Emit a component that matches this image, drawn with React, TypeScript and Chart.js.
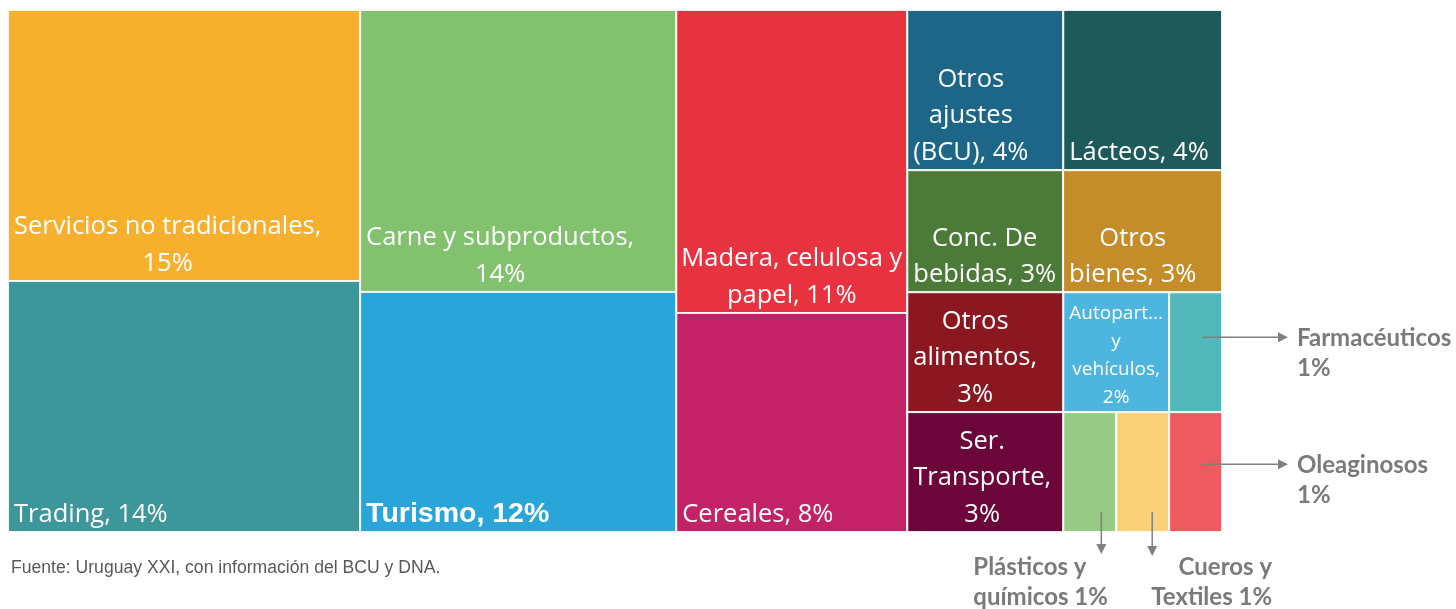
import React, { useEffect, useRef } from "react";
import { Chart, registerables } from "chart.js";

Chart.register(...registerables);

// ---------- DATA ----------
const categories = [
  "Servicios no tradicionales",
  "Trading",
  "Carne y subproductos",
  "Turismo",
  "Madera, celulosa y papel",
  "Cereales",
  "Otros ajustes (BCU)",
  "Lácteos",
  "Conc. De bebidas",
  "Otros bienes",
  "Otros alimentos",
  "Ser. Transporte",
  "Autopartes y vehículos",
  "Farmacéuticos",
  "Plásticos y químicos",
  "Cueros y Textiles",
  "Oleaginosos",
];

const shares = [15.05, 13.94, 14.06, 11.97, 11.04, 7.98, 3.94, 4.01, 3.0, 3.06, 2.95, 2.95, 2.0, 1.0, 1.0, 1.0, 1.0];

const cellLabelLines: string[][] = [
  ["Servicios no tradicionales,", "15%"],
  ["Trading, 14%"],
  ["Carne y subproductos,", "14%"],
  ["Turismo, 12%"],
  ["Madera, celulosa y", "papel, 11%"],
  ["Cereales, 8%"],
  ["Otros", "ajustes", "(BCU), 4%"],
  ["Lácteos, 4%"],
  ["Conc. De", "bebidas, 3%"],
  ["Otros", "bienes, 3%"],
  ["Otros", "alimentos,", "3%"],
  ["Ser.", "Transporte,", "3%"],
  ["Autopart...", "y", "vehículos,", "2%"],
  [],
  [],
  [],
  [],
];

const outsideLabelLines: Record<number, string[]> = {
  13: ["Farmacéuticos", "1%"],
  16: ["Oleaginosos", "1%"],
  14: ["Plásticos y", "químicos 1%"],
  15: ["Cueros y", "Textiles 1%"],
};

const sourceNote = "Fuente: Uruguay XXI, con información del BCU y DNA.";

// treemap strip structure (squarified grouping)
const strips: { items: number[]; dir: "col" | "row" }[] = [
  { items: [0, 1], dir: "col" },
  { items: [2, 3], dir: "col" },
  { items: [4, 5], dir: "col" },
  { items: [6, 7], dir: "row" },
  { items: [8, 9], dir: "row" },
  { items: [10, 11], dir: "col" },
  { items: [12, 13], dir: "row" },
  { items: [14, 15, 16], dir: "row" },
];

// ---------- STYLE ----------
const colors = [
  "#F7AF2E",
  "#3D9699",
  "#82C26E",
  "#29A5DA",
  "#E9323F",
  "#C42267",
  "#1D6688",
  "#1E5A59",
  "#4C7A38",
  "#C48D2A",
  "#8B1721",
  "#6C053A",
  "#4EB5DF",
  "#52B8BA",
  "#97CB85",
  "#FAD178",
  "#EF5A60",
];

const BOLD_CELL = 3;
const SMALL_CELL = 12;
const GRAY = "#7A7A7A";

type Rect = { x0: number; x1: number; y0: number; y1: number };

function layoutTreemap(): Rect[] {
  const rects: Rect[] = new Array(shares.length);
  let rem: Rect = { x0: 0, x1: 1, y0: 0, y1: 1 };
  let remTotal = shares.reduce((a, b) => a + b, 0);
  strips.forEach((s, si) => {
    const sum = s.items.reduce((a, i) => a + shares[i], 0);
    const last = si === strips.length - 1;
    const frac = last ? 1 : sum / remTotal;
    if (s.dir === "col") {
      const xEnd = rem.x0 + (rem.x1 - rem.x0) * frac;
      let y = rem.y0;
      s.items.forEach((i) => {
        const h = ((rem.y1 - rem.y0) * shares[i]) / sum;
        rects[i] = { x0: rem.x0, x1: xEnd, y0: y, y1: y + h };
        y += h;
      });
      rem = { ...rem, x0: xEnd };
    } else {
      const yEnd = rem.y0 + (rem.y1 - rem.y0) * frac;
      let x = rem.x0;
      s.items.forEach((i) => {
        const w = ((rem.x1 - rem.x0) * shares[i]) / sum;
        rects[i] = { x0: x, x1: x + w, y0: rem.y0, y1: yEnd };
        x += w;
      });
      rem = { ...rem, y0: yEnd };
    }
    remTotal -= sum;
  });
  return rects;
}

function drawArrow(ctx: CanvasRenderingContext2D, x1: number, y1: number, x2: number, y2: number) {
  ctx.save();
  ctx.strokeStyle = "#808080";
  ctx.fillStyle = "#808080";
  ctx.lineWidth = 1.5;
  const ang = Math.atan2(y2 - y1, x2 - x1);
  const hl = 10;
  const hw = 5;
  const bx = x2 - hl * Math.cos(ang);
  const by = y2 - hl * Math.sin(ang);
  ctx.beginPath();
  ctx.moveTo(x1, y1);
  ctx.lineTo(bx, by);
  ctx.stroke();
  ctx.beginPath();
  ctx.moveTo(x2, y2);
  ctx.lineTo(bx - hw * Math.sin(ang), by + hw * Math.cos(ang));
  ctx.lineTo(bx + hw * Math.sin(ang), by - hw * Math.cos(ang));
  ctx.closePath();
  ctx.fill();
  ctx.restore();
}

export default function App() {
  const canvasRef = useRef<HTMLCanvasElement | null>(null);

  useEffect(() => {
    if (!canvasRef.current) return;
    const rects = layoutTreemap();

    const treemapPlugin = {
      id: "treemapCells",
      afterDatasetsDraw(chart: any) {
        const ctx: CanvasRenderingContext2D = chart.ctx;
        const xs = chart.scales.x;
        const ys = chart.scales.y;
        const px = rects.map((r) => ({
          x0: xs.getPixelForValue(r.x0),
          x1: xs.getPixelForValue(r.x1),
          y0: ys.getPixelForValue(r.y0),
          y1: ys.getPixelForValue(r.y1),
        }));
        ctx.save();
        // cells
        px.forEach((p, i) => {
          ctx.fillStyle = colors[i];
          ctx.fillRect(p.x0, p.y0, p.x1 - p.x0, p.y1 - p.y0);
          ctx.strokeStyle = "rgba(255,255,255,0.9)";
          ctx.lineWidth = 2;
          ctx.strokeRect(p.x0, p.y0, p.x1 - p.x0, p.y1 - p.y0);
        });
        // labels inside
        ctx.fillStyle = "#FFFFFF";
        ctx.textBaseline = "middle";
        ctx.textAlign = "center";
        px.forEach((p, i) => {
          const lines = cellLabelLines[i];
          if (!lines || !lines.length) return;
          let font = "25.5px 'Open Sans'";
          let lh = 36.5;
          let bottomOff = 17.5;
          if (i === BOLD_CELL) {
            font = "bold 28.5px 'Liberation Sans', Arial";
            bottomOff = 18;
          } else if (i === SMALL_CELL) {
            font = "19px 'Open Sans'";
            lh = 28;
            bottomOff = 15;
          }
          ctx.font = font;
          const bw = Math.max(...lines.map((l) => ctx.measureText(l).width));
          const cw = p.x1 - p.x0;
          let pad = 6;
          if (cw - bw < 12) pad = Math.max(0, (cw - bw) / 2);
          const cx = p.x0 + pad + bw / 2;
          lines.forEach((l, k) => {
            const y = p.y1 - bottomOff - (lines.length - 1 - k) * lh;
            ctx.fillText(l, cx, y);
          });
        });
        // outside annotations
        ctx.font = "bold 24px Lato";
        ctx.fillStyle = GRAY;
        // right-pointing
        [13, 16].forEach((i) => {
          const p = px[i];
          const ay = i === 13 ? p.y0 + 45 : p.y0 + 52;
          const sx = (p.x0 + p.x1) / 2 + 7;
          drawArrow(ctx, sx, ay, p.x1 + 66, ay);
          ctx.textAlign = "left";
          const lines = outsideLabelLines[i];
          lines.forEach((l, k) => ctx.fillText(l, p.x1 + 75, ay + 1 + k * 30.5));
        });
        // downward
        {
          const p = px[14];
          const ax = p.x0 + 38;
          drawArrow(ctx, ax, p.y1 - 20, ax, p.y1 + 22);
          ctx.textAlign = "left";
          outsideLabelLines[14].forEach((l, k) => ctx.fillText(l, p.x0 - 90, p.y1 + 35 + k * 30));
        }
        {
          const p = px[15];
          const ax = p.x0 + 36;
          drawArrow(ctx, ax, p.y1 - 20, ax, p.y1 + 24);
          ctx.textAlign = "right";
          outsideLabelLines[15].forEach((l, k) => ctx.fillText(l, p.x1 + 103, p.y1 + 35 + k * 30));
        }
        // source note
        ctx.font = "17.6px 'Liberation Sans', Arial";
        ctx.fillStyle = "#595959";
        ctx.textAlign = "left";
        ctx.fillText(sourceNote, chart.chartArea.left + 3, chart.chartArea.bottom + 36);
        ctx.restore();
      },
    };

    const centers = rects.map((r, i) => ({ x: (r.x0 + r.x1) / 2, y: (r.y0 + r.y1) / 2, v: shares[i] }));

    const chart = new Chart(canvasRef.current, {
      type: "scatter",
      data: {
        datasets: [
          {
            label: "Exportaciones",
            data: centers,
            pointRadius: 0,
            pointHoverRadius: 0,
          },
        ],
      },
      options: {
        animation: false,
        responsive: false,
        maintainAspectRatio: false,
        layout: { padding: { left: 8, top: 10, right: 234, bottom: 77 } },
        scales: {
          x: { type: "linear", min: 0, max: 1, display: false },
          y: { type: "linear", min: 0, max: 1, reverse: true, display: false },
        },
        plugins: {
          legend: { display: false },
          tooltip: { enabled: false },
          title: { display: false },
        },
      },
      plugins: [treemapPlugin],
    });
    return () => chart.destroy();
  }, []);

  return (
    <div style={{ position: "absolute", left: 0, top: 0, width: 1456, height: 609, background: "#fff" }}>
      <canvas ref={canvasRef} width={1456} height={609} style={{ display: "block" }} />
    </div>
  );
}
